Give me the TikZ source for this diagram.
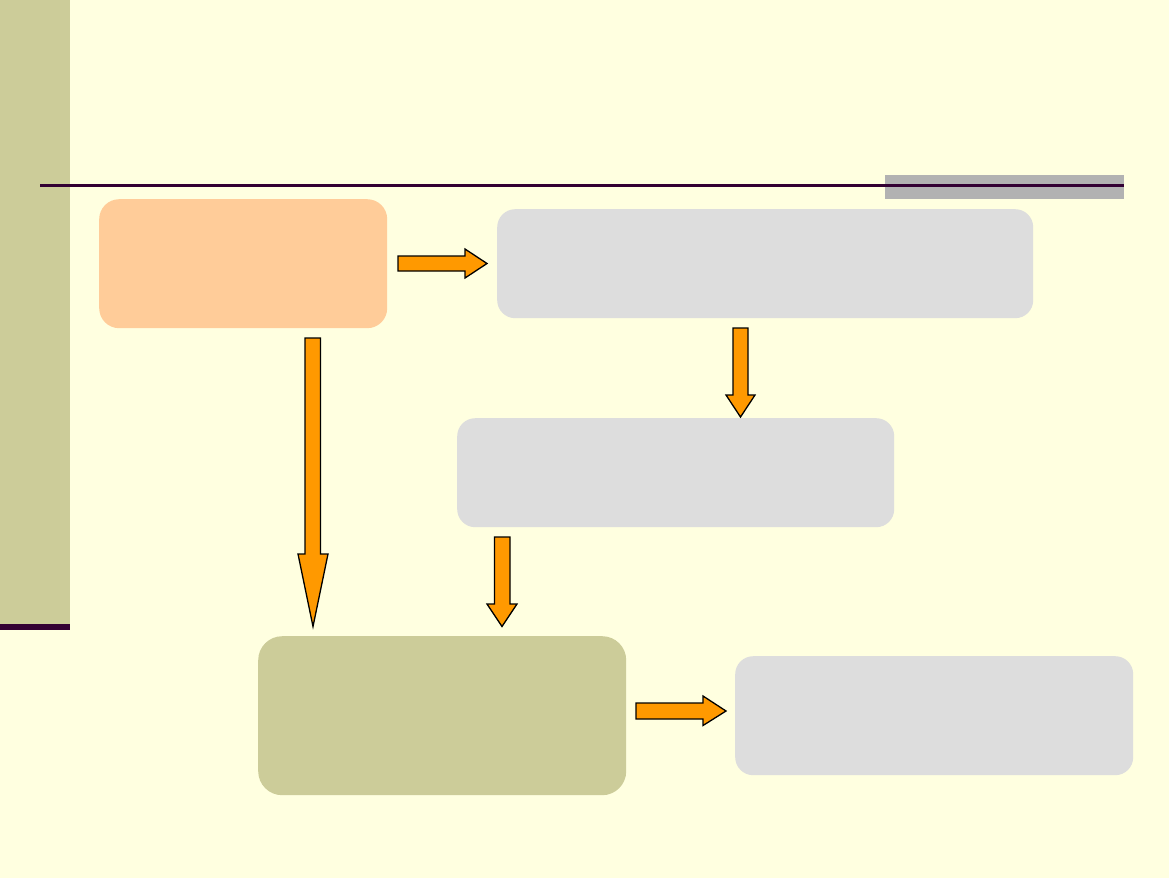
\documentclass[tikz,border=0pt]{standalone}
\usetikzlibrary{calc}
\definecolor{bgc}{HTML}{FFFFE0}
\definecolor{olive}{HTML}{CCCC99}
\definecolor{darkp}{HTML}{330033}
\definecolor{peach}{HTML}{FFCC99}
\definecolor{lgray}{HTML}{DDDDDD}
\definecolor{mgray}{HTML}{B2B2B2}
\definecolor{orng}{HTML}{FF9900}
\tikzset{
  box/.style={draw=none, rectangle, rounded corners=#1, inner sep=0pt, anchor=north west},
  box/.default=18pt,
  barrow/.style={fill=orng, draw=black, line width=1.3pt, line join=miter}
}
\begin{document}
\begin{tikzpicture}[x=1pt,y=-1pt]
\fill[bgc] (0,0) rectangle (1169,878);
\useasboundingbox (0,0) rectangle (1169,878);
% left band
\fill[olive] (0,0) rectangle (70,624);
\fill[darkp] (0,624) rectangle (70,630);
% gray tab and rule
\fill[mgray] (885,175) rectangle (1124,198.5);
\fill[darkp] (40,184) rectangle (1124,187.2);
% boxes
\node[box=20pt, fill=peach, minimum width=288pt, minimum height=129pt] (b1) at (99,199) {};
\node[box, fill=lgray, minimum width=536pt, minimum height=109pt] (b2) at (497,209) {};
\node[box, fill=lgray, minimum width=437pt, minimum height=109pt] (b3) at (457,418) {};
\node[box=24pt, fill=olive, minimum width=368pt, minimum height=159pt] (b4) at (258,636) {};
\node[box, fill=lgray, minimum width=398pt, minimum height=119pt] (b5) at (735,656) {};
% block arrows
% b1 -> b2
\draw[barrow] (398,256) -- (465,256) -- (465,249) -- (487,263.5) -- (465,278) -- (465,271) -- (398,271) -- cycle;
% b2 -> b3
\draw[barrow] (733,328) -- (748,328) -- (748,395) -- (755,395) -- (740.5,417) -- (726,395) -- (733,395) -- cycle;
% b1 -> b4 (long)
\draw[barrow] (305,338) -- (320.5,338) -- (320.5,554) -- (328,554) -- (313,626.5) -- (298,554) -- (305,554) -- cycle;
% b3 -> b4
\draw[barrow] (494.5,537) -- (510,537) -- (510,604) -- (517,604) -- (502,626.5) -- (487,604) -- (494.5,604) -- cycle;
% b4 -> b5
\draw[barrow] (636,703) -- (703,703) -- (703,696) -- (726,711) -- (703,725.5) -- (703,719) -- (636,719) -- cycle;
\end{tikzpicture}
\end{document}
